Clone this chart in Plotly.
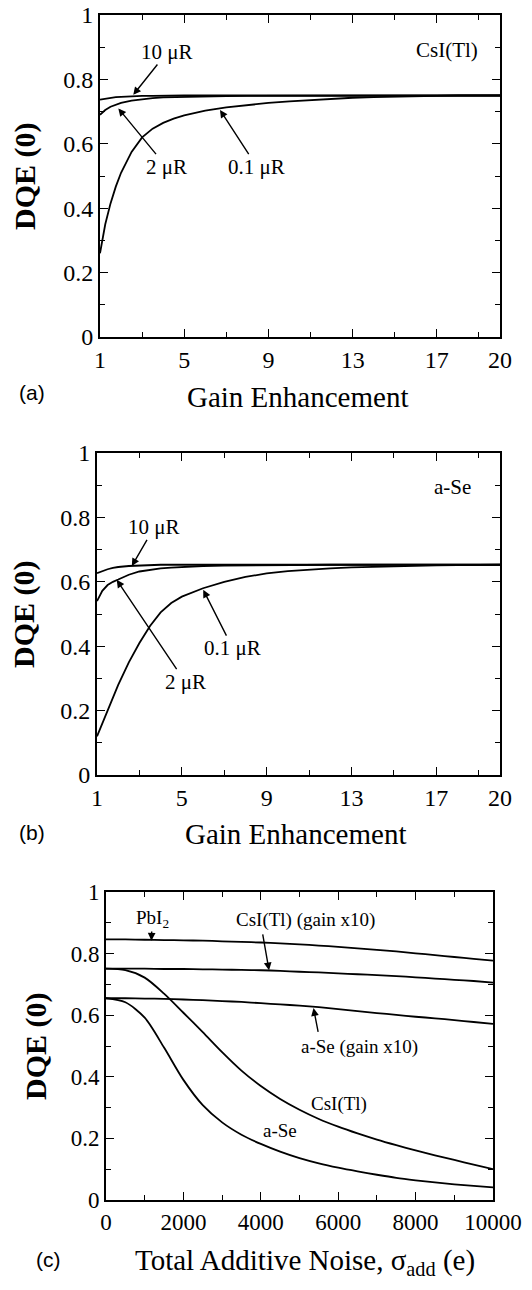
import plotly.graph_objects as go

# ---------------- data ----------------
gain = [1, 1.25, 1.5, 1.75, 2, 2.5, 3, 3.5, 4, 4.5, 5, 6, 7, 8, 9, 10, 11, 12, 13, 14, 15, 16, 17, 18, 19, 20]

csi_10uR = [0.737, 0.740, 0.743, 0.745, 0.746, 0.748, 0.749, 0.749, 0.750, 0.750, 0.750, 0.750, 0.750,
            0.750, 0.750, 0.750, 0.750, 0.750, 0.750, 0.750, 0.750, 0.750, 0.750, 0.750, 0.750, 0.750]
csi_2uR = [0.690, 0.705, 0.715, 0.722, 0.727, 0.734, 0.739, 0.742, 0.744, 0.745, 0.746, 0.747, 0.748,
           0.749, 0.749, 0.750, 0.750, 0.750, 0.750, 0.750, 0.750, 0.750, 0.750, 0.750, 0.750, 0.750]
csi_01uR = [0.260, 0.350, 0.415, 0.467, 0.510, 0.575, 0.620, 0.647, 0.665, 0.678, 0.688, 0.703, 0.713,
            0.721, 0.727, 0.732, 0.736, 0.740, 0.743, 0.745, 0.747, 0.748, 0.749, 0.750, 0.750, 0.750]

ase_10uR = [0.627, 0.634, 0.639, 0.643, 0.646, 0.649, 0.651, 0.652, 0.653, 0.653, 0.653, 0.653, 0.653,
            0.653, 0.653, 0.653, 0.653, 0.653, 0.653, 0.653, 0.653, 0.653, 0.653, 0.653, 0.653, 0.653]
ase_2uR = [0.540, 0.572, 0.590, 0.600, 0.607, 0.622, 0.632, 0.638, 0.642, 0.644, 0.646, 0.649, 0.650,
           0.651, 0.652, 0.653, 0.653, 0.653, 0.653, 0.653, 0.653, 0.653, 0.653, 0.653, 0.653, 0.653]
ase_01uR = [0.120, 0.160, 0.200, 0.240, 0.280, 0.350, 0.410, 0.463, 0.505, 0.534, 0.554, 0.580, 0.600,
            0.615, 0.626, 0.633, 0.638, 0.642, 0.645, 0.647, 0.649, 0.650, 0.651, 0.652, 0.653, 0.653]

noise = [0, 500, 1000, 1500, 2000, 2500, 3000, 3500, 4000, 4500, 5000, 5500, 6000, 6500, 7000, 7500,
         8000, 8500, 9000, 9500, 10000]

pbi2 = [0.846, 0.846, 0.845, 0.844, 0.843, 0.842, 0.840, 0.838, 0.836, 0.833, 0.830, 0.826, 0.822,
        0.817, 0.812, 0.807, 0.801, 0.795, 0.789, 0.783, 0.777]
csi_gain10 = [0.751, 0.751, 0.751, 0.750, 0.750, 0.749, 0.748, 0.747, 0.746, 0.744, 0.741, 0.739, 0.736,
              0.733, 0.730, 0.727, 0.723, 0.719, 0.715, 0.711, 0.706]
ase_gain10 = [0.655, 0.655, 0.654, 0.653, 0.651, 0.649, 0.646, 0.643, 0.639, 0.635, 0.631, 0.626, 0.620,
              0.613, 0.607, 0.601, 0.595, 0.590, 0.584, 0.578, 0.572]
csi_noise = [0.751, 0.746, 0.722, 0.670, 0.608, 0.545, 0.480, 0.420, 0.370, 0.328, 0.293, 0.263, 0.238,
             0.216, 0.196, 0.178, 0.161, 0.145, 0.130, 0.115, 0.100]
ase_noise = [0.655, 0.642, 0.592, 0.495, 0.390, 0.308, 0.252, 0.212, 0.182, 0.157, 0.136, 0.119, 0.105,
             0.093, 0.082, 0.072, 0.064, 0.057, 0.051, 0.046, 0.041]

y_ticks = [0, 0.2, 0.4, 0.6, 0.8, 1]
y_minor = [0.1, 0.3, 0.5, 0.7, 0.9]
gain_ticks = [1, 5, 9, 13, 17, 20]
gain_minor = [3, 7, 11, 15, 19]
noise_ticks = [0, 2000, 4000, 6000, 8000, 10000]
noise_minor = [1000, 3000, 5000, 7000, 9000]

# ---------------- figure ----------------
W, H = 532, 1290
SERIF = "Liberation Serif"
SANS = "Liberation Sans"


def px_x(p):
    return p / W


def px_y(p):
    return 1 - p / H


fig = go.Figure()

lin = dict(color="black", width=1.8, shape="linear")
spl = dict(color="black", width=1.8, shape="spline", smoothing=0.8)
for ys in (csi_10uR, csi_2uR, csi_01uR):
    fig.add_trace(go.Scatter(x=gain, y=ys, mode="lines", line=lin, xaxis="x", yaxis="y",
                             showlegend=False, hoverinfo="skip"))
for ys in (ase_10uR, ase_2uR, ase_01uR):
    fig.add_trace(go.Scatter(x=gain, y=ys, mode="lines", line=lin, xaxis="x2", yaxis="y2",
                             showlegend=False, hoverinfo="skip"))
for ys in (pbi2, csi_gain10, ase_gain10, csi_noise, ase_noise):
    fig.add_trace(go.Scatter(x=noise, y=ys, mode="lines", line=spl, xaxis="x3", yaxis="y3",
                             showlegend=False, hoverinfo="skip"))


def axis_common(tickvals, minorvals, rng, size):
    return dict(
        range=rng, tickvals=tickvals, ticktext=[("%g" % v) for v in tickvals],
        ticks="inside", ticklen=8, tickwidth=1.2, tickcolor="black",
        minor=dict(tickvals=minorvals, ticks="inside", ticklen=5, tickwidth=1.2, tickcolor="black"),
        showline=True, linecolor="black", linewidth=1.8, mirror="allticks",
        showgrid=False, zeroline=False, automargin=False,
        tickfont=dict(family=SERIF, size=size, color="black"),
    )


# panel domains (pixels)
pa = dict(l=100, r=500, t=15, b=337)
pb = dict(l=97, r=500, t=453, b=775)
pc = dict(l=106, r=493, t=892, b=1200)

layout = dict(
    width=W, height=H, margin=dict(l=0, r=0, t=0, b=0, autoexpand=False),
    paper_bgcolor="white", plot_bgcolor="white",
    font=dict(family=SERIF, color="black"),
    showlegend=False,
)
for i, (p, xt, xm, xr, fs) in enumerate([
        (pa, gain_ticks, gain_minor, [1, 20], 24),
        (pb, gain_ticks, gain_minor, [1, 20], 24),
        (pc, noise_ticks, noise_minor, [0, 10000], 23)]):
    sfx = "" if i == 0 else str(i + 1)
    xa = axis_common(xt, xm, xr, fs)
    xa.update(domain=[px_x(p["l"]), px_x(p["r"])], anchor="y" + sfx)
    ya = axis_common(y_ticks, y_minor, [0, 1], fs)
    ya.update(domain=[px_y(p["b"]), px_y(p["t"])], anchor="x" + sfx)
    layout["xaxis" + sfx] = xa
    layout["yaxis" + sfx] = ya

fig.update_layout(**layout)

ann = []


def text(x, y, s, ax_sfx, size):
    ann.append(dict(x=x, y=y, text=s, xref="x" + ax_sfx, yref="y" + ax_sfx, showarrow=False,
                    font=dict(family=SERIF, size=size, color="black"),
                    xanchor="center", yanchor="middle"))


def label_arrow(x_tip, y_tip, x_lab, y_lab, s, ax_sfx, size):
    # label centred at (x_lab, y_lab); arrow runs from the label's edge to the tip
    ann.append(dict(x=x_tip, y=y_tip, ax=x_lab, ay=y_lab, text=s,
                    xref="x" + ax_sfx, yref="y" + ax_sfx, axref="x" + ax_sfx, ayref="y" + ax_sfx,
                    font=dict(family=SERIF, size=size, color="black"),
                    showarrow=True, arrowhead=2, arrowsize=1.1, arrowwidth=1.4, arrowcolor="black",
                    standoff=0, startstandoff=0, borderpad=0))


def arrow(x_tip, y_tip, x_tail, y_tail, ax_sfx):
    ann.append(dict(x=x_tip, y=y_tip, ax=x_tail, ay=y_tail, text="",
                    xref="x" + ax_sfx, yref="y" + ax_sfx, axref="x" + ax_sfx, ayref="y" + ax_sfx,
                    showarrow=True, arrowhead=2, arrowsize=1.1, arrowwidth=1.4, arrowcolor="black",
                    standoff=0, startstandoff=0))


# panel (a)
label_arrow(2.58, 0.752, 4.20, 0.885, "10 μR", "", 21)
label_arrow(1.87, 0.71, 4.15, 0.529, "2 μR", "", 21)
label_arrow(6.70, 0.705, 8.45, 0.529, "0.1 μR", "", 21)
text(17.5, 0.89, "CsI(Tl)", "", 21)

# panel (b)
label_arrow(2.64, 0.649, 3.70, 0.769, "10 μR", "2", 21)
label_arrow(1.93, 0.606, 5.15, 0.29, "2 μR", "2", 21)
label_arrow(6.01, 0.575, 7.40, 0.394, "0.1 μR", "2", 21)
text(17.77, 0.893, "a-Se", "2", 21)

# panel (c)
label_arrow(1174, 0.842, 1191, 0.912, "PbI<sub>2</sub>", "3", 19)
text(5149, 0.909, "CsI(Tl) (gain x10)", "3", 19)
arrow(4213, 0.746, 4043, 0.867, "3")
text(6553, 0.498, "a-Se (gain x10)", "3", 19)
arrow(5362, 0.623, 5489, 0.541, "3")
text(6030, 0.312, "CsI(Tl)", "3", 19)
text(4496, 0.227, "a-Se", "3", 19)


def paper_text(xp, yp, s, size, family=SERIF, angle=0):
    ann.append(dict(x=px_x(xp), y=px_y(yp), text=s, xref="paper", yref="paper", showarrow=False,
                    font=dict(family=family, size=size, color="black"), textangle=angle,
                    xanchor="center", yanchor="middle"))


# axis titles and panel labels
paper_text(25, (pa["t"] + pa["b"]) / 2, "<b>DQE (0)</b>", 30, angle=-90)
paper_text(24, (pb["t"] + pb["b"]) / 2, "<b>DQE (0)</b>", 30, angle=-90)
paper_text(36, (pc["t"] + pc["b"]) / 2, "<b>DQE (0)</b>", 30, angle=-90)

paper_text(297, 397, "Gain Enhancement", 29)
paper_text(295, 834, "Gain Enhancement", 29)
paper_text(305, 1262, "Total Additive Noise, σ<sub>add</sub> (e)", 29)

paper_text(32, 392, "(a)", 21, family=SANS)
paper_text(32, 832, "(b)", 21, family=SANS)
paper_text(48, 1259, "(c)", 21, family=SANS)

fig.update_layout(annotations=ann)

fig.write_html("out.html")
